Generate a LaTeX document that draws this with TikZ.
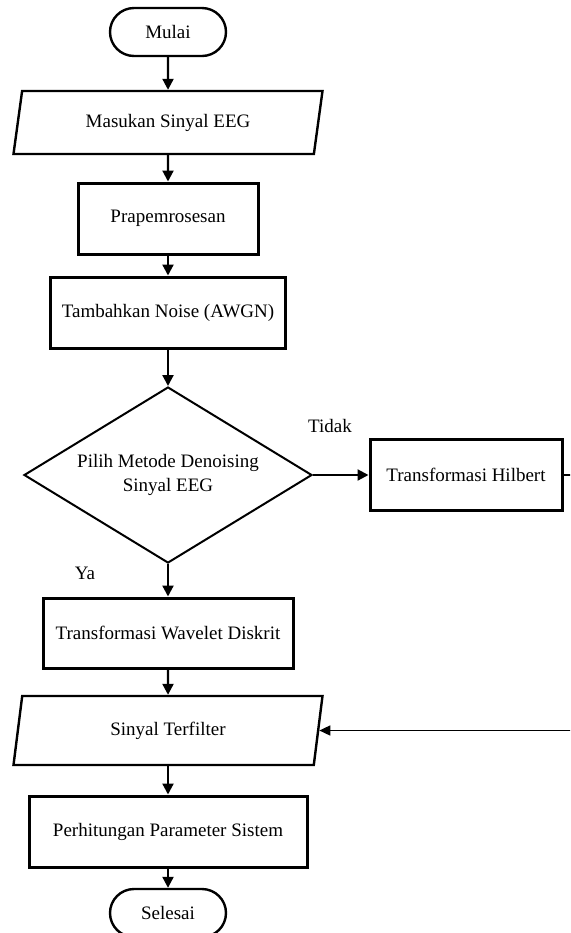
\documentclass[tikz,border=0pt]{standalone}
\usepackage{fontspec}
\setmainfont{Liberation Serif}
\usepackage{tikz}
\usetikzlibrary{shapes.geometric,arrows.meta}
\tikzset{
  txt/.style={font=\fontsize{9.5}{12}\selectfont, align=center, inner sep=0pt},
  term/.style={txt, draw, line width=1.2pt, rounded corners=12pt, minimum width=58pt, minimum height=24pt},
  io/.style={txt, draw, line width=1.2pt, trapezium, trapezium left angle=63.5, trapezium right angle=116.5, trapezium stretches body, minimum width=154.5pt},
  proc/.style={txt, draw, line width=1.5pt, minimum height=35.5pt},
  dec/.style={txt, draw, line width=1pt, diamond, aspect=1.64, minimum width=144pt, minimum height=88pt},
  arr/.style={line width=1.1pt, -{Triangle[length=5.5pt,width=5.5pt]}},
  back/.style={line width=0.8pt, -{Triangle[length=5.5pt,width=5pt]}},
  lab/.style={txt},
}

\begin{document}
\begin{tikzpicture}[x=0.5pt, y=-0.5pt]
  \useasboundingbox (0,0) rectangle (570,933);
  \clip (0,0) rectangle (570,933);
  \node[term] (mulai) at (168,32) {Mulai};
  \node[io, minimum height=31.5pt] (masuk) at (168,122.5) {Masukan Sinyal EEG};
  \node[proc, minimum width=90pt] (prep) at (168,218.5) {Prapemrosesan};
  \node[proc, minimum width=117.5pt] (noise) at (168,312.5) {Tambahkan Noise (AWGN)};
  \node[dec] (pilih) at (168,475) {Pilih Metode Denoising\\Sinyal EEG};
  \node[proc, minimum width=96pt] (hilb) at (466,475) {Transformasi Hilbert};
  \node[proc, minimum width=125pt, minimum height=35pt] (dwt) at (168,633) {Transformasi Wavelet Diskrit};
  \node[io, minimum height=34.5pt] (filt) at (168,730.5) {Sinyal Terfilter};
  \node[proc, minimum width=139pt] (param) at (168,831.5) {Perhitungan Parameter Sistem};
  \node[term] (selesai) at (168,913) {Selesai};
  \node[lab] (tidak) at (330,426) {Tidak};
  \node[lab] (ya) at (85,573) {Ya};
  % alur utama
  \draw[arr] (mulai) -- (masuk);
  \draw[arr] (masuk) -- (prep);
  \draw[arr] (prep) -- (noise);
  \draw[arr] (noise) -- (pilih);
  \draw[arr] (pilih) -- (dwt);
  \draw[arr] (dwt) -- (filt);
  \draw[arr] (filt) -- (param);
  \draw[arr] (param) -- (selesai);
  % cabang tidak
  \draw[arr] (pilih) -- (hilb);
  \draw[back] (hilb.east) -- ++(30,0) |- (filt);
\end{tikzpicture}
\end{document}
